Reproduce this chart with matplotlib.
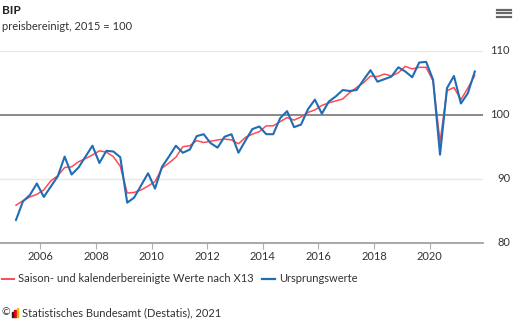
import matplotlib
matplotlib.use("Agg")
import matplotlib.pyplot as plt
from matplotlib.lines import Line2D
from matplotlib.patches import Rectangle
import numpy as np

# ---- data ----
years = list(range(2005, 2022))
quarters = [(y, q) for y in years for q in range(1, 5)][:67]  # 2005Q1 .. 2021Q3

saisonbereinigt = [
    85.9, 86.6, 87.2, 87.6,
    88.3, 89.7, 90.5, 91.8,
    91.9, 92.7, 93.2, 93.75,
    94.4, 94.2, 93.5, 92.0,
    87.8, 87.9, 88.3, 88.9,
    89.6, 91.7, 92.5, 93.4,
    95.05, 95.2, 96.0, 95.7,
    95.9, 96.1, 96.25, 96.1,
    95.5, 96.5, 97.0, 97.4,
    98.3, 98.3, 98.96, 99.6,
    99.2, 99.7, 100.4, 100.8,
    101.5, 101.9, 102.2, 102.5,
    103.5, 104.3, 105.05, 106.1,
    106.0, 106.4, 106.1, 106.6,
    107.6, 107.2, 107.45, 107.45,
    105.3, 95.8, 103.8, 104.3,
    102.4, 104.2, 106.2,
]
ursprungswerte = [
    83.6, 86.5, 87.5, 89.3,
    87.2, 88.8, 90.4, 93.5,
    90.7, 91.8, 93.5, 95.2,
    92.5, 94.4, 94.3, 93.4,
    86.3, 87.1, 89.0, 90.9,
    88.5, 91.9, 93.5, 95.2,
    94.1, 94.6, 96.7, 97.0,
    95.6, 94.9, 96.6, 97.0,
    94.1, 96.0, 97.8, 98.2,
    97.0, 97.0, 99.5, 100.6,
    98.1, 98.5, 100.9, 102.4,
    100.2, 102.1, 102.9, 103.9,
    103.75, 103.9, 105.5, 107.0,
    105.2, 105.6, 106.0, 107.45,
    106.8, 105.9, 108.2, 108.3,
    105.5, 93.8, 104.2, 106.1,
    101.8, 103.4, 106.8,
]
x_ticks = [2006, 2008, 2010, 2012, 2014, 2016, 2018, 2020]
y_ticks = [80, 90, 100, 110]

title = "BIP"
subtitle = "preisbereinigt, 2015 = 100"
label_sa = "Saison- und kalenderbereinigte Werte nach X13"
label_orig = "Ursprungswerte"
credit = "Statistisches Bundesamt (Destatis), 2021"

# ---- style ----
FONT = ["Lato", "DejaVu Sans"]
plt.rcParams["font.family"] = FONT
RED = "#ff4a57"
BLUE = "#1f6db4"
TXT = "#333333"

t = np.array([y + (q - 1) / 4 + 0.125 for y, q in quarters])

W, H = 514, 325
fig = plt.figure(figsize=(W / 100, H / 100), dpi=100)
ax = fig.add_axes([0 / W, (H - 243) / H, 483 / W, 192 / H])

ax.plot(t, saisonbereinigt, color=RED, lw=1.1, zorder=3, solid_joinstyle="round")
ax.plot(t, ursprungswerte, color=BLUE, lw=1.5, zorder=4, solid_joinstyle="round")

ax.set_xlim(2004.55, 2021.92)
ax.set_ylim(80, 110)

for v in (90, 110):
    ax.axhline(v, color="#e9e9e9", lw=1, zorder=1)
ax.axhline(100, color="#808080", lw=1.3, zorder=2)

for s in ("top", "left", "right"):
    ax.spines[s].set_visible(False)
ax.spines["bottom"].set_color("#9a9a9a")
ax.spines["bottom"].set_linewidth(1.2)

ax.set_xticks(x_ticks)
ax.set_xticklabels([str(v) for v in x_ticks])
ax.tick_params(axis="x", length=4, color="#b0b0b0", labelsize=8, labelcolor=TXT, pad=2)
ax.set_yticks([])
ytrans = ax.get_yaxis_transform()
for v in y_ticks:
    ax.text(1.0 + 27 / 483, v, str(v), transform=ytrans, ha="right", va="center",
            fontsize=8, color=TXT, clip_on=False)

# ---- texts ----
fig.text(2 / W, 1 - 10 / H, title, fontsize=8.5, fontweight="bold", color="#222222", va="center", ha="left")
fig.text(2 / W, 1 - 27 / H, subtitle, fontsize=8, color=TXT, va="center", ha="left")

# hamburger icon
for yy in (9.5, 13, 16.5):
    fig.add_artist(Line2D([497 / W, 511 / W], [1 - yy / H, 1 - yy / H], color="#666666", lw=1.6,
                          transform=fig.transFigure))

# legend
ly = 1 - 279 / H
fig.add_artist(Line2D([2 / W, 14 / W], [ly, ly], color=RED, lw=1.4, transform=fig.transFigure))
fig.text(18 / W, ly, label_sa, fontsize=8, color=TXT, va="center", ha="left")
fig.add_artist(Line2D([262 / W, 275 / W], [ly, ly], color=BLUE, lw=1.6, transform=fig.transFigure))
fig.text(279 / W, ly, label_orig, fontsize=8, color=TXT, va="center", ha="left")

# credit
cy = 1 - 313 / H
fig.text(1 / W, cy, "\u00a9", fontsize=7.5, color=TXT, va="center", ha="left")
for i, (col, hh) in enumerate([("#222222", 5), ("#e2001a", 7), ("#f5b400", 9)]):
    fig.add_artist(Rectangle(((12 + i * 2.3) / W, (H - 317) / H), 1.6 / W, hh / H,
                             color=col, transform=fig.transFigure))
fig.text(22 / W, cy, credit, fontsize=8, color=TXT, va="center", ha="left")

fig.savefig("out.png", dpi=100)
